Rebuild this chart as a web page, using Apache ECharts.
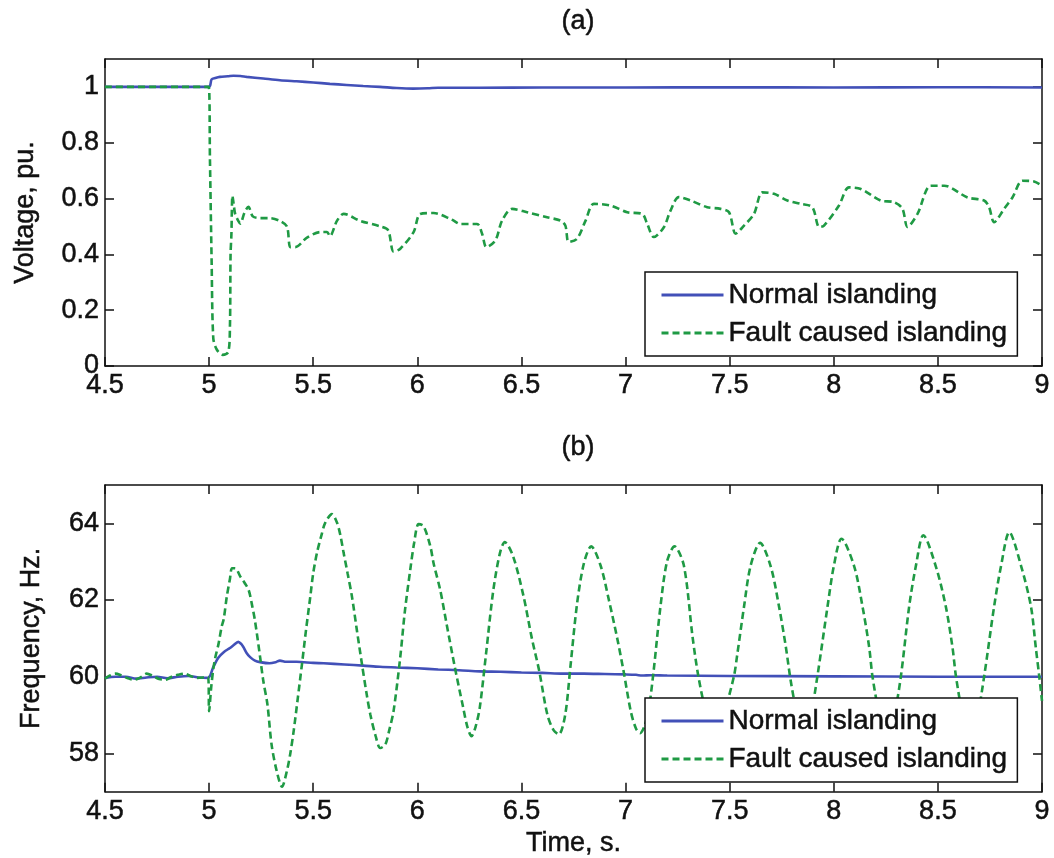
<!DOCTYPE html>
<html>
<head>
<meta charset="utf-8">
<script src="https://cdn.jsdelivr.net/npm/echarts@6/dist/echarts.min.js"></script>
<style>
html,body{margin:0;padding:0;background:#fff;}
#chart{width:1054px;height:858px;}
</style>
</head>
<body>
<div id="chart"></div>
<script>
// ---------- DATA ----------
var seriesNames = ['Normal islanding', 'Fault caused islanding'];
var panelTitles = ['(a)', '(b)'];
var xTicks = [4.5, 5, 5.5, 6, 6.5, 7, 7.5, 8, 8.5, 9];
var voltTicks = [0, 0.2, 0.4, 0.6, 0.8, 1];
var freqTicks = [58, 60, 62, 64];

// (a) Voltage, pu. — normal islanding [time, value]
var voltNormal = [
  [4.5,1.0],[4.75,1.0],[4.998,1.0],[5.005,1.005],[5.012,1.027],[5.03,1.032],[5.052,1.036],
  [5.09,1.038],[5.117,1.04],[5.15,1.039],[5.18,1.036],[5.26,1.03],[5.34,1.024],[5.42,1.02],
  [5.5,1.016],[5.58,1.011],[5.66,1.007],[5.74,1.003],[5.82,1.0],[5.9,0.996],[5.98,0.994],
  [6.05,0.995],[6.1,0.997],[6.3,0.997],[6.6,0.998],[7.0,0.998],[7.5,0.999],[8.0,0.998],
  [8.5,0.999],[9.0,0.998]
];
// (a) Voltage, pu. — fault caused islanding
var voltFault = [
  [4.5,1.0],[4.75,1.0],[4.998,1.0],[5.004,0.74],[5.012,0.38],[5.02,0.10],[5.036,0.06],
  [5.065,0.04],[5.092,0.05],[5.10,0.14],[5.103,0.40],[5.107,0.47],[5.112,0.61],[5.118,0.58],
  [5.125,0.545],[5.14,0.52],[5.15,0.51],[5.17,0.55],[5.189,0.57],[5.21,0.536],[5.245,0.53],
  [5.29,0.53],[5.34,0.52],[5.374,0.50],[5.39,0.426],[5.414,0.426],[5.47,0.46],[5.534,0.48],
  [5.566,0.48],[5.58,0.465],[5.614,0.52],[5.646,0.545],[5.726,0.52],[5.822,0.50],[5.86,0.486],
  [5.886,0.41],[5.918,0.42],[5.982,0.48],[6.014,0.545],[6.078,0.548],[6.167,0.524],[6.207,0.509],
  [6.287,0.509],[6.311,0.474],[6.332,0.426],[6.375,0.45],[6.407,0.521],[6.455,0.563],[6.527,0.551],
  [6.623,0.533],[6.687,0.521],[6.711,0.503],[6.727,0.444],[6.767,0.456],[6.808,0.521],[6.848,0.581],
  [6.928,0.575],[7.008,0.551],[7.08,0.545],[7.104,0.509],[7.136,0.462],[7.184,0.497],[7.216,0.557],
  [7.256,0.605],[7.312,0.593],[7.392,0.569],[7.456,0.563],[7.497,0.551],[7.529,0.474],[7.569,0.503],
  [7.617,0.545],[7.657,0.622],[7.713,0.617],[7.777,0.593],[7.841,0.581],[7.897,0.569],[7.93,0.498],
  [7.953,0.503],[8.025,0.575],[8.073,0.64],[8.13,0.634],[8.225,0.593],[8.289,0.587],[8.33,0.563],
  [8.354,0.498],[8.402,0.545],[8.466,0.646],[8.53,0.646],[8.642,0.604],[8.722,0.593],[8.746,0.569],
  [8.77,0.515],[8.818,0.563],[8.858,0.604],[8.906,0.664],[8.962,0.661],[9.0,0.646]
];
// (b) Frequency, Hz. — normal islanding
var freqNormal = [
  [4.5,59.97],[4.55,60.0],[4.6,60.0],[4.65,59.95],[4.7,59.98],[4.75,60.0],[4.8,59.96],[4.85,60.0],
  [4.9,60.02],[4.95,59.98],[4.995,59.97],[5.02,60.25],[5.045,60.5],[5.07,60.64],[5.10,60.75],
  [5.117,60.82],[5.14,60.91],[5.155,60.85],[5.165,60.77],[5.18,60.62],[5.197,60.51],[5.22,60.42],
  [5.245,60.38],[5.29,60.35],[5.32,60.38],[5.34,60.42],[5.37,60.39],[5.42,60.39],[5.5,60.36],
  [5.55,60.35],[5.65,60.32],[5.74,60.29],[5.82,60.26],[5.9,60.24],[6.0,60.22],[6.1,60.19],
  [6.2,60.17],[6.3,60.14],[6.4,60.13],[6.5,60.11],[6.6,60.1],[6.7,60.08],[6.8,60.08],[6.9,60.07],
  [7.0,60.06],[7.05,60.05],[7.08,60.03],[7.12,60.04],[7.2,60.03],[7.5,60.02],[8.0,60.01],
  [8.5,60.0],[9.0,60.0]
];
// (b) Frequency, Hz. — fault caused islanding
var freqFault = [
  [4.50,59.95],[4.52,60.02],[4.55,60.08],[4.58,60.03],[4.61,59.96],[4.64,59.92],[4.67,59.98],
  [4.70,60.08],[4.73,60.02],[4.76,59.94],[4.79,59.92],[4.82,60.0],[4.85,60.05],[4.88,60.08],
  [4.91,60.02],[4.94,59.97],[4.97,59.98],[4.995,60.0],[5.0,59.1],[5.01,59.72],[5.02,60.2],
  [5.03,60.51],[5.045,60.85],[5.06,61.3],[5.07,61.5],[5.085,62.09],[5.10,62.55],[5.11,62.83],
  [5.125,62.83],[5.15,62.61],[5.17,62.45],[5.19,62.26],[5.205,61.9],[5.22,61.47],[5.245,60.51],
  [5.26,59.9],[5.28,59.28],[5.30,58.23],[5.325,57.53],[5.35,57.13],[5.373,57.53],[5.39,58.0],
  [5.406,58.58],[5.425,59.4],[5.446,60.33],[5.465,61.2],[5.486,62.09],[5.50,62.7],[5.518,63.23],
  [5.54,63.7],[5.558,64.02],[5.59,64.24],[5.614,64.02],[5.63,63.7],[5.646,63.23],[5.665,62.7],
  [5.686,62.09],[5.71,61.2],[5.734,60.33],[5.755,59.6],[5.774,59.02],[5.80,58.45],[5.822,58.14],
  [5.846,58.23],[5.865,58.6],[5.886,59.11],[5.918,60.51],[5.94,61.7],[5.966,62.79],[5.985,63.5],
  [6.006,63.98],[6.03,63.93],[6.0625,63.40],[6.078,62.96],[6.11,62.26],[6.14,61.39],[6.18,60.25],
  [6.22,59.2],[6.24,58.7],[6.26,58.45],[6.28,58.7],[6.30,59.2],[6.33,60.6],[6.365,62.26],
  [6.397,63.23],[6.42,63.51],[6.46,63.14],[6.51,62.1],[6.55,61.0],[6.585,60.16],[6.625,59.0],
  [6.655,58.6],[6.68,58.5],[6.71,59.0],[6.735,60.25],[6.767,61.9],[6.80,62.96],[6.835,63.4],
  [6.88,62.9],[6.92,62.0],[6.96,61.0],[6.99,60.16],[7.025,59.1],[7.05,58.65],[7.07,58.53],
  [7.09,58.7],[7.11,59.1],[7.135,60.16],[7.167,61.8],[7.199,63.0],[7.235,63.4],[7.28,62.9],
  [7.322,61.03],[7.35,60.0],[7.39,59.0],[7.43,58.5],[7.47,59.0],[7.52,60.0],[7.537,60.6],
  [7.569,61.83],[7.60,62.88],[7.646,63.49],[7.697,62.88],[7.737,61.83],[7.77,60.77],[7.793,59.9],
  [7.825,59.0],[7.86,58.5],[7.89,59.0],[7.921,60.0],[7.97,61.83],[8.0,62.88],[8.037,63.6],
  [8.098,62.88],[8.138,61.83],[8.17,60.77],[8.186,60.0],[8.22,59.0],[8.255,58.5],[8.29,59.0],
  [8.322,60.0],[8.362,61.83],[8.394,62.88],[8.43,63.69],[8.49,62.88],[8.538,61.83],[8.57,60.77],
  [8.587,60.0],[8.62,59.0],[8.655,58.5],[8.69,59.0],[8.722,60.0],[8.77,61.83],[8.803,62.88],
  [8.843,63.77],[8.9,62.88],[8.947,61.83],[8.97,60.77],[8.987,60.0],[9.0,59.37]
];

// ---------- STYLE ----------
var FONT = 'Liberation Sans, Arial, Helvetica, sans-serif';
var TXT = '#111';
var BLUE = '#4250b8';
var GREEN = '#1f9a44';
var GRID_L = 105, GRID_W = 937;
var TB = { textBorderColor: '#111', textBorderWidth: 0.5 };

function fmt(v) { return String(Math.round(v * 100) / 100); }
function txt(size) {
  return Object.assign({ fontFamily: FONT, fontSize: size, color: TXT }, TB);
}

function bottomX(gridIndex, showName) {
  return {
    type: 'value', gridIndex: gridIndex, position: 'bottom',
    min: 4.5, max: 9, interval: 0.5,
    name: showName ? 'Time, s.' : '', nameLocation: 'middle', nameGap: 38,
    nameTextStyle: txt(27),
    axisLine: { show: true, onZero: false, lineStyle: { color: '#111', width: 1.5 } },
    axisTick: { show: true, inside: true, length: 9, lineStyle: { color: '#111', width: 1.5 } },
    axisLabel: Object.assign(txt(27), { show: true, margin: 6, formatter: fmt,
      showMinLabel: true, showMaxLabel: true, customValues: xTicks }),
    splitLine: { show: false }
  };
}
function topX(gridIndex) {
  return {
    type: 'value', gridIndex: gridIndex, position: 'top',
    min: 4.5, max: 9, interval: 0.5,
    axisLine: { show: true, onZero: false, lineStyle: { color: '#111', width: 1.5 } },
    axisTick: { show: true, inside: true, length: 9, lineStyle: { color: '#111', width: 1.5 } },
    axisLabel: { show: false }, splitLine: { show: false }
  };
}
function leftY(gridIndex, name, min, max, ticks, gap) {
  return {
    type: 'value', gridIndex: gridIndex, position: 'left',
    min: min, max: max,
    name: name, nameLocation: 'middle', nameGap: gap, nameRotate: 90,
    nameTextStyle: txt(27),
    axisLine: { show: true, onZero: false, lineStyle: { color: '#111', width: 1.5 } },
    axisTick: { show: true, inside: true, length: 9, customValues: ticks, lineStyle: { color: '#111', width: 1.5 } },
    axisLabel: Object.assign(txt(27), { show: true, margin: 6, formatter: fmt, customValues: ticks }),
    splitLine: { show: false }
  };
}
function rightY(gridIndex, min, max, ticks) {
  return {
    type: 'value', gridIndex: gridIndex, position: 'right',
    min: min, max: max,
    axisLine: { show: true, onZero: false, lineStyle: { color: '#111', width: 1.5 } },
    axisTick: { show: true, inside: true, length: 9, customValues: ticks, lineStyle: { color: '#111', width: 1.5 } },
    axisLabel: { show: false }, splitLine: { show: false }
  };
}
function legendAt(top) {
  return {
    left: 645, top: top, orient: 'vertical', selectedMode: false,
    data: seriesNames,
    backgroundColor: '#fff', borderColor: '#111', borderWidth: 1.5, borderRadius: 0,
    padding: [8, 10, 8, 15], itemGap: 8, itemWidth: 62, itemHeight: 14,
    itemStyle: { opacity: 0 },
    lineStyle: { width: 3 },
    textStyle: Object.assign(txt(28), { lineHeight: 30 })
  };
}
function lineSeries(name, data, xi, yi, color, dashed) {
  return {
    type: 'line', name: name, data: data, xAxisIndex: xi, yAxisIndex: yi,
    showSymbol: false, symbol: 'none', smooth: 0.3, animation: false,
    lineStyle: { color: color, width: 2.6, type: dashed ? [7, 4] : 'solid' },
    itemStyle: { color: color }
  };
}

var chart = echarts.init(document.getElementById('chart'), null, { renderer: 'canvas' });
chart.setOption({
  animation: false,
  backgroundColor: '#fff',
  title: [
    { text: panelTitles[0], left: 573, top: 3, textAlign: 'center',
      textStyle: Object.assign(txt(27), { fontWeight: 'normal' }) },
    { text: panelTitles[1], left: 573, top: 429, textAlign: 'center',
      textStyle: Object.assign(txt(27), { fontWeight: 'normal' }) }
  ],
  grid: [
    { left: GRID_L, top: 59, width: GRID_W, height: 307 },
    { left: GRID_L, top: 485, width: GRID_W, height: 307 }
  ],
  xAxis: [bottomX(0, false), topX(0), bottomX(1, true), topX(1)],
  yAxis: [
    leftY(0, 'Voltage, pu.', 0, 1.1, voltTicks, 66),
    rightY(0, 0, 1.1, voltTicks),
    leftY(1, 'Frequency, Hz.', 57, 65, freqTicks, 60),
    rightY(1, 57, 65, freqTicks)
  ],
  legend: [legendAt(272), legendAt(698)],
  series: [
    lineSeries(seriesNames[0], voltNormal, 0, 0, BLUE, false),
    lineSeries(seriesNames[1], voltFault, 0, 0, GREEN, true),
    lineSeries(seriesNames[0], freqNormal, 2, 2, BLUE, false),
    lineSeries(seriesNames[1], freqFault, 2, 2, GREEN, true)
  ]
});
</script>
</body>
</html>
